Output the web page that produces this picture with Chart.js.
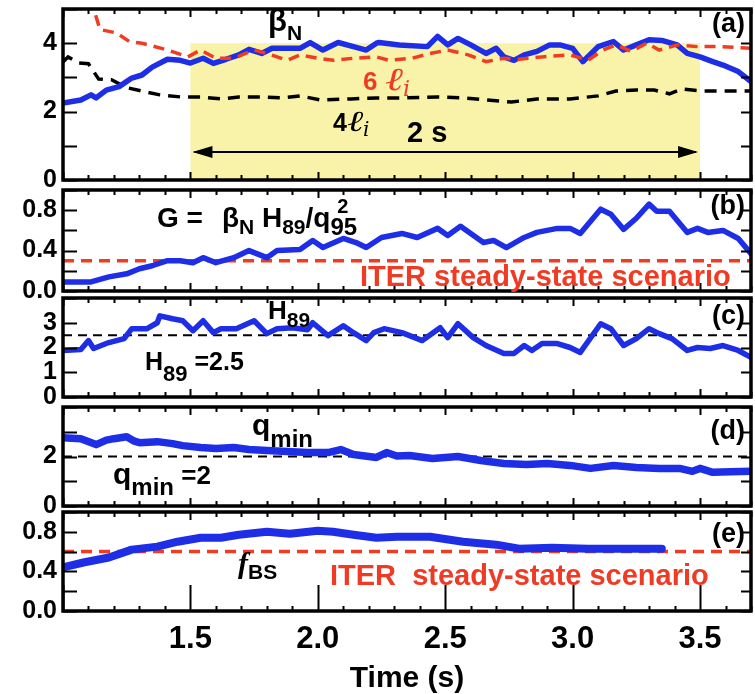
<!DOCTYPE html>
<html><head><meta charset="utf-8">
<script src="https://cdn.jsdelivr.net/npm/chart.js"></script>
<style>
html,body{margin:0;padding:0;background:#fff;}
#wrap{position:relative;width:755px;height:694px;overflow:hidden;background:#fff;}
canvas{position:absolute;left:0;}
.t{position:absolute;white-space:nowrap;font-family:'Liberation Sans',Arial,sans-serif;font-weight:bold;line-height:1;color:#000;}
.red{color:#ef3a24;}
.li{font-family:'DejaVu Serif',serif;font-style:italic;font-weight:normal;}
.sb{position:relative;}
</style></head><body><div id="wrap">
<canvas id="ca"></canvas><canvas id="cb"></canvas><canvas id="cc"></canvas><canvas id="cd"></canvas><canvas id="ce"></canvas>

<div class="t" style="left:268px;top:5px;font-size:31px">β<span class="sb" style="font-size:21px;top:9px">N</span></div>
<div class="t red" style="left:363px;top:63px;font-size:26px">6 <span class="li" style="font-size:32px;display:inline-block;transform:scaleX(1.35);transform-origin:left;margin-right:5px">ℓ</span><span class="li sb" style="font-size:22px;top:6px">i</span></div>
<div class="t" style="left:333px;top:107px;font-size:25px">4<span class="li" style="font-size:29px;display:inline-block;transform:scaleX(1.35);transform-origin:left;margin-right:4px">ℓ</span><span class="li sb" style="font-size:20px;top:5px">i</span></div>
<div class="t" style="left:407px;top:118px;font-size:29px">2 s</div>
<div class="t" style="right:10px;top:10px;font-size:27px">(a)</div>

<div class="t" style="left:157px;top:204px;font-size:28px">G =<span style="margin-left:19px">β</span><span class="sb" style="font-size:21px;top:7px">N</span> H<span class="sb" style="font-size:21px;top:7px">89</span>/q<span class="sb" style="font-size:24px;top:8px">95</span><span class="sb" style="font-size:20px;top:-14px;margin-left:-20px">2</span></div>
<div class="t red" style="left:360px;top:262px;font-size:29px">ITER steady-state scenario</div>
<div class="t" style="right:10px;top:192px;font-size:27px">(b)</div>

<div class="t" style="left:268px;top:297px;font-size:26px">H<span class="sb" style="font-size:21px;top:8px">89</span></div>
<div class="t" style="left:145px;top:349px;font-size:25px">H<span class="sb" style="font-size:22px;top:11px">89</span> =2.5</div>
<div class="t" style="right:10px;top:302px;font-size:27px">(c)</div>

<div class="t" style="left:252px;top:410px;font-size:30px">q<span class="sb" style="font-size:24px;top:12px">min</span></div>
<div class="t" style="left:113px;top:459px;font-size:30px">q<span class="sb" style="font-size:24px;top:11px">min</span><span style="font-size:26px"> =2</span></div>
<div class="t" style="right:10px;top:417px;font-size:27px">(d)</div>

<div class="t" style="left:238px;top:548px;font-size:30px"><span style="font-family:'Liberation Serif',serif;font-style:italic">f</span><span class="sb" style="font-size:21px;top:6px">BS</span></div>
<div class="t red" style="left:330px;top:561px;font-size:29px">ITER&nbsp; steady-state scenario</div>
<div class="t" style="right:10px;top:520px;font-size:27px">(e)</div>
</div>
<script>
// ---------- data ----------
const xTicks = [1.5, 2.0, 2.5, 3.0, 3.5];

const betaT = [1.00,1.07,1.11,1.13,1.17,1.22,1.27,1.31,1.35,1.41,1.46,1.50,1.55,1.59,1.64,1.69,1.73,1.78,1.82,1.93,1.97,2.02,2.08,2.14,2.19,2.23,2.24,2.32,2.43,2.47,2.51,2.55,2.60,2.66,2.70,2.73,2.77,2.81,2.86,2.91,2.95,3.00,3.04,3.10,3.16,3.20,3.25,3.30,3.35,3.41,3.45,3.50,3.55,3.59,3.65,3.70];
const betaN = [2.25,2.34,2.49,2.40,2.63,2.73,2.98,3.07,3.30,3.53,3.50,3.42,3.56,3.41,3.53,3.66,3.82,3.70,3.85,3.85,4.02,3.80,4.02,3.90,3.80,4.00,4.02,3.95,3.90,4.20,3.95,4.14,3.95,3.70,3.85,3.60,3.50,3.66,3.76,3.95,3.95,3.85,3.46,3.90,4.05,3.80,3.95,4.10,4.08,3.95,3.70,3.60,3.46,3.36,3.17,2.88];

const li6T = [1.10,1.125,1.145,1.21,1.26,1.31,1.41,1.49,1.54,1.60,1.67,1.75,1.80,1.88,1.93,2.00,2.06,2.14,2.23,2.28,2.37,2.44,2.51,2.59,2.66,2.73,2.79,2.88,2.99,3.06,3.12,3.17,3.23,3.29,3.34,3.41,3.49,3.58,3.70];
const li6  = [5.3,4.9,4.4,4.3,4.05,4.0,3.8,3.6,3.8,3.56,3.56,3.8,3.7,3.5,3.66,3.56,3.5,3.56,3.6,3.5,3.56,3.7,3.8,3.66,3.46,3.56,3.53,3.6,3.66,3.5,3.8,3.95,3.76,4.0,3.8,3.95,3.9,3.9,3.85];

const li4T = [1.00,1.02,1.06,1.10,1.14,1.19,1.25,1.31,1.38,1.46,1.54,1.62,1.69,1.78,1.86,1.93,2.01,2.13,2.23,2.33,2.47,2.57,2.66,2.76,2.86,2.99,3.10,3.17,3.25,3.32,3.38,3.43,3.51,3.58,3.70];
const li4  = [3.45,3.6,3.42,3.40,2.95,2.93,2.70,2.60,2.49,2.43,2.43,2.37,2.43,2.43,2.40,2.46,2.34,2.37,2.40,2.40,2.43,2.40,2.34,2.28,2.37,2.37,2.46,2.60,2.63,2.63,2.52,2.66,2.60,2.60,2.60];

const gT   = [1.00,1.11,1.18,1.25,1.30,1.35,1.41,1.46,1.51,1.55,1.60,1.67,1.73,1.80,1.84,1.93,1.98,2.02,2.10,2.15,2.19,2.25,2.33,2.39,2.47,2.51,2.56,2.65,2.69,2.74,2.81,2.86,2.94,2.99,3.03,3.11,3.15,3.20,3.25,3.30,3.33,3.38,3.45,3.49,3.53,3.59,3.65,3.70];
const gVal = [0.09,0.09,0.14,0.17,0.22,0.25,0.30,0.30,0.28,0.33,0.28,0.33,0.40,0.33,0.40,0.41,0.50,0.43,0.52,0.48,0.43,0.53,0.57,0.53,0.62,0.55,0.64,0.48,0.50,0.43,0.53,0.58,0.62,0.62,0.57,0.81,0.76,0.61,0.72,0.86,0.79,0.79,0.58,0.62,0.58,0.60,0.52,0.37];

const hT  = [1.00,1.07,1.10,1.12,1.18,1.24,1.27,1.33,1.37,1.38,1.43,1.47,1.51,1.55,1.59,1.62,1.68,1.75,1.80,1.84,1.90,1.96,1.98,2.04,2.10,2.14,2.19,2.22,2.26,2.33,2.41,2.48,2.51,2.55,2.61,2.66,2.73,2.77,2.81,2.84,2.88,2.94,2.99,3.03,3.11,3.15,3.20,3.25,3.30,3.34,3.39,3.45,3.49,3.54,3.59,3.65,3.70];
const h89 = [1.88,1.92,2.28,1.96,2.2,2.36,2.76,2.76,3.0,3.28,3.16,3.08,2.68,3.08,2.6,2.76,2.76,3.08,2.56,2.76,2.8,2.72,3.0,2.48,2.88,2.6,2.28,2.6,2.76,2.6,2.28,2.8,2.4,2.96,2.4,2.08,1.76,1.76,2.08,1.88,2.16,2.16,2.0,1.8,2.96,2.76,2.08,2.36,2.76,2.56,2.36,1.88,2.0,1.96,2.08,1.88,1.6];

const qT   = [1.00,1.07,1.13,1.17,1.20,1.25,1.28,1.30,1.37,1.43,1.47,1.54,1.60,1.67,1.73,1.80,1.88,1.96,2.04,2.09,2.14,2.23,2.27,2.31,2.36,2.45,2.55,2.64,2.73,2.82,2.90,2.99,3.07,3.16,3.25,3.34,3.42,3.47,3.50,3.55,3.62,3.70];
const qmin = [2.76,2.72,2.48,2.66,2.72,2.80,2.62,2.56,2.6,2.52,2.44,2.36,2.32,2.36,2.28,2.24,2.2,2.16,2.16,2.28,2.08,1.96,2.16,2.02,2.04,1.92,2.0,1.84,1.72,1.68,1.72,1.64,1.52,1.64,1.56,1.52,1.52,1.4,1.52,1.36,1.38,1.4];

const fT  = [1.00,1.08,1.18,1.27,1.37,1.45,1.54,1.62,1.69,1.80,1.89,2.00,2.06,2.14,2.23,2.31,2.44,2.57,2.70,2.79,2.92,3.06,3.19,3.35];
const fbs = [0.44,0.49,0.54,0.62,0.65,0.70,0.74,0.74,0.77,0.80,0.78,0.81,0.80,0.77,0.74,0.75,0.75,0.70,0.67,0.63,0.64,0.63,0.63,0.63];

const iterG = 0.3, h89Ref = 2.5, qminRef = 2, iterFbs = 0.6;
const flatTopWindow = [1.5, 3.5];   // shaded 2 s window
const flatTopLevel = 4;
const arrowLevel = 0.82;

const yTicksA = [0,1,2,3,4,5],      yLabelsA = [0,2,4];
const yTicksB = [0,0.2,0.4,0.6,0.8,1.0], yLabelsB = [0,0.4,0.8];
const yTicksC = [0,1,2,3,4],        yLabelsC = [0,1,2,3];
const yTicksD = [0,1,2,3,4],        yLabelsD = [0,2];
const yTicksE = [0,0.2,0.4,0.6,0.8,1.0], yLabelsE = [0,0.4,0.8];

// ---------- rendering ----------
const SANS = "'Liberation Sans', Arial, sans-serif";
const NARROW = "'Liberation Sans Narrow', 'Liberation Sans', Arial, sans-serif";
const BLUE = '#1e2ee6', RED = '#f03c22', BLACK = '#000';
const X0 = 1.0, X1 = 3.7;
const pts = (t, v) => t.map((x, i) => ({x, y: v[i]}));
const hline = v => [{x: X0, y: v}, {x: X1, y: v}];

const framePlugin = {
  id: 'frame',
  afterDatasetsDraw(chart, args, o) {
    const {ctx, chartArea: {left, right, top, bottom}, scales: {x, y}} = chart;
    ctx.save();
    ctx.strokeStyle = '#000';
    ctx.lineWidth = 2;
    ctx.beginPath();
    y.ticks.forEach(t => {
      const py = Math.round(y.getPixelForValue(t.value)) + 0.5;
      ctx.moveTo(left, py); ctx.lineTo(left + 14, py);
      ctx.moveTo(right, py); ctx.lineTo(right - 10, py);
    });
    for (let i = Math.round(X0 * 10); i <= Math.round(X1 * 10); i++) {
      const v = i / 10, px = Math.round(x.getPixelForValue(v)) + 0.5;
      const major = i % 5 === 0;
      const lt = major ? 8 : 5;
      const lb = major ? (o.bigBottom ? 26 : 8) : 5;
      ctx.moveTo(px, top); ctx.lineTo(px, top + lt);
      ctx.moveTo(px, bottom); ctx.lineTo(px, bottom - lb);
    }
    ctx.stroke();
    ctx.lineWidth = 3.5;
    ctx.strokeRect(left, top, right - left, bottom - top);
    ctx.restore();
  }
};

const shadePlugin = {
  id: 'shade',
  beforeDatasetsDraw(chart, args, o) {
    if (!o || !o.on) return;
    const {ctx, scales: {x, y}} = chart;
    const L = x.getPixelForValue(flatTopWindow[0]), R = x.getPixelForValue(flatTopWindow[1]);
    const T = y.getPixelForValue(flatTopLevel), B = y.getPixelForValue(0);
    ctx.save();
    ctx.fillStyle = 'rgb(248,243,168)';
    ctx.fillRect(L, T, R - L, B - T);
    const ay = y.getPixelForValue(arrowLevel);
    ctx.strokeStyle = '#000'; ctx.fillStyle = '#000'; ctx.lineWidth = 2;
    ctx.beginPath(); ctx.moveTo(L + 4, ay); ctx.lineTo(R - 4, ay); ctx.stroke();
    ctx.beginPath(); ctx.moveTo(L + 2, ay); ctx.lineTo(L + 22, ay - 6); ctx.lineTo(L + 22, ay + 6); ctx.closePath(); ctx.fill();
    ctx.beginPath(); ctx.moveTo(R - 2, ay); ctx.lineTo(R - 22, ay - 6); ctx.lineTo(R - 22, ay + 6); ctx.closePath(); ctx.fill();
    ctx.restore();
  }
};

function solid(data, w) {
  return {data, borderColor: BLUE, borderWidth: w, pointRadius: 0, tension: 0, fill: false,
          borderCapStyle: 'round', borderJoinStyle: 'round'};
}
function dashed(data, color, w, dash) {
  return {data, borderColor: color, borderWidth: w, pointRadius: 0, tension: 0, fill: false,
          borderDash: dash, borderCapStyle: 'butt'};
}
const near = (arr, v) => arr.some(a => Math.abs(a - v) < 1e-6);

const panels = [
  {id: 'ca', top: 9, bottom: 180, yMin: 0, yMax: 5, yTicks: yTicksA, yLabels: yLabelsA, fmt: v => String(v), shade: true,
   datasets: [dashed(pts(li6T, li6), RED, 3.5, [11, 7]), solid(pts(betaT, betaN), 5.5), dashed(pts(li4T, li4), BLACK, 3.5, [12, 8])]},
  {id: 'cb', top: 190, bottom: 291, yMin: 0, yMax: 1, yTicks: yTicksB, yLabels: yLabelsB, fmt: v => v.toFixed(1),
   datasets: [solid(pts(gT, gVal), 5.5), dashed(hline(iterG), RED, 3.5, [11, 7])]},
  {id: 'cc', top: 298, bottom: 397, yMin: 0, yMax: 4, yTicks: yTicksC, yLabels: yLabelsC, fmt: v => String(v),
   datasets: [solid(pts(hT, h89), 5.5), dashed(hline(h89Ref), BLACK, 2, [9, 6])]},
  {id: 'cd', top: 407, bottom: 506, yMin: 0, yMax: 4, yTicks: yTicksD, yLabels: yLabelsD, fmt: v => String(v),
   datasets: [solid(pts(qT, qmin), 7.5), dashed(hline(qminRef), BLACK, 2, [9, 6])]},
  {id: 'ce', top: 512, bottom: 611, yMin: 0, yMax: 1, yTicks: yTicksE, yLabels: yLabelsE, fmt: v => v.toFixed(1), last: true,
   datasets: [solid(pts(fT, fbs), 8), dashed(hline(iterFbs), RED, 3.5, [11, 7])]}
];

const PADT = 22, PADB = 22, W = 755, RIGHT = 751, LEFTW = 63, H_TOTAL = 694;

panels.forEach(p => {
  const cv = document.getElementById(p.id);
  const ctop = p.top - PADT;
  const h = p.last ? (H_TOTAL - ctop) : (p.bottom - p.top + PADT + PADB);
  cv.width = W; cv.height = h;
  cv.style.width = W + 'px'; cv.style.height = h + 'px'; cv.style.top = ctop + 'px';
  const xAxisH = p.last ? (H_TOTAL - p.bottom) : 0;
  new Chart(cv, {
    type: 'line',
    data: {datasets: p.datasets},
    plugins: [shadePlugin, framePlugin],
    options: {
      responsive: false, animation: false, devicePixelRatio: 1,
      layout: {padding: {left: 0, right: W - RIGHT, top: PADT, bottom: p.last ? 0 : PADB}},
      plugins: {legend: {display: false}, tooltip: {enabled: false},
                shade: {on: !!p.shade}, frame: {bigBottom: !!p.last}},
      scales: {
        x: {
          type: 'linear', min: X0, max: X1, display: !!p.last,
          afterBuildTicks: s => { s.ticks = xTicks.map(v => ({value: v})); },
          afterFit: s => { if (p.last) s.height = xAxisH; },
          grid: {display: false, drawTicks: false}, border: {display: false},
          ticks: {autoSkip: false, maxRotation: 0, padding: 10, color: '#000',
                  font: {family: NARROW, weight: 'bold', size: 31},
                  callback: v => Number(v).toFixed(1)},
          title: {display: true, text: 'Time (s)', color: '#000', padding: {top: 6, bottom: -3},
                  font: {family: NARROW, weight: 'bold', size: 30}}
        },
        y: {
          min: p.yMin, max: p.yMax,
          afterBuildTicks: s => { s.ticks = p.yTicks.map(v => ({value: v})); },
          afterFit: s => { s.width = LEFTW; },
          grid: {display: false, drawTicks: false}, border: {display: false},
          ticks: {autoSkip: false, padding: 6, color: '#000',
                  font: {family: SANS, weight: 'bold', size: 25},
                  callback: v => near(p.yLabels, v) ? p.fmt(v) : ''}
        }
      }
    }
  });
});
</script>
</body></html>
